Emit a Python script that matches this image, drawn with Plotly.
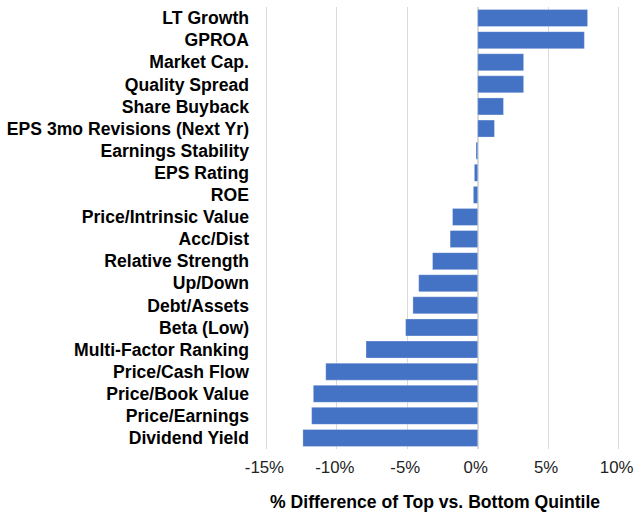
import plotly.graph_objects as go

categories = [
    "LT Growth", "GPROA", "Market Cap.", "Quality Spread", "Share Buyback",
    "EPS 3mo Revisions (Next Yr)", "Earnings Stability", "EPS Rating", "ROE",
    "Price/Intrinsic Value", "Acc/Dist", "Relative Strength", "Up/Down",
    "Debt/Assets", "Beta (Low)", "Multi-Factor Ranking", "Price/Cash Flow",
    "Price/Book Value", "Price/Earnings", "Dividend Yield",
]
values = [
    7.8, 7.57, 3.26, 3.26, 1.83,
    1.19, -0.12, -0.24, -0.31,
    -1.79, -1.96, -3.21, -4.19,
    -4.6, -5.12, -7.93, -10.79,
    -11.67, -11.79, -12.41,
]
tick_vals = [-15, -10, -5, 0, 5, 10]
tick_text = ["-15%", "-10%", "-5%", "0%", "5%", "10%"]
x_title = "% Difference of Top vs. Bottom Quintile"

FONT = "Liberation Sans, Arial, sans-serif"

fig = go.Figure(go.Bar(
    x=values, y=categories, orientation="h",
    marker=dict(color="#4472C4", line=dict(color="rgba(255,255,255,0.5)", width=0.6)),
))

fig.update_layout(
    width=634, height=513,
    margin=dict(l=265, r=14, t=7, b=64),
    paper_bgcolor="white", plot_bgcolor="white",
    bargap=0.23,
    showlegend=False,
    font=dict(family=FONT, size=17.6, color="black"),
    annotations=[dict(
        text="<b>" + x_title + "</b>", xref="paper", yref="paper",
        x=0.478, y=0, yshift=-53, xanchor="center", yanchor="middle",
        showarrow=False, font=dict(family=FONT, size=17.6, color="black"),
    )],
)
fig.update_xaxes(
    range=[-15.1, 10.1], tickvals=tick_vals, ticktext=tick_text,
    showgrid=True, gridcolor="#d9d9d9", gridwidth=1.3,
    zeroline=True, zerolinecolor="#d9d9d9", zerolinewidth=1.6,
    showline=False, ticks="", ticklabelstandoff=6, ticklabelshift=-2,
    ticklabeloverflow="allow", automargin=False,
    tickfont=dict(family=FONT, size=16.8, color="#222"),
    fixedrange=True,
)
fig.update_yaxes(
    categoryorder="array", categoryarray=categories, autorange="reversed",
    showgrid=False, zeroline=False, showline=False, ticks="",
    ticklabelstandoff=15, automargin=False,
    tickfont=dict(family=FONT, size=17.6, color="black", weight="bold"),
    fixedrange=True,
)

fig.write_html(
    "out.html",
    config={"displayModeBar": False},
    post_script="document.body.style.margin='0';document.body.style.overflow='hidden';",
)
